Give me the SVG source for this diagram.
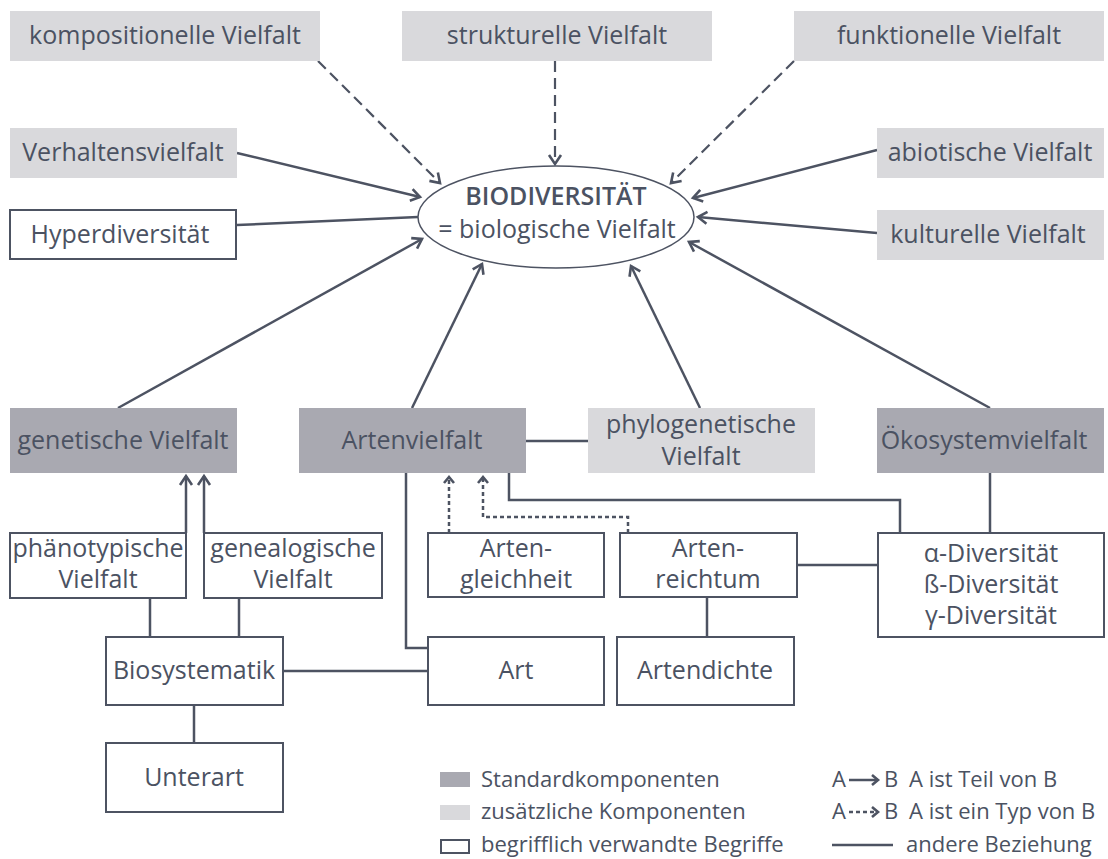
<svg xmlns="http://www.w3.org/2000/svg" width="1108" height="859" viewBox="0 0 1108 859">
<defs>
<style>
text { font-family: "Open Sans", "Noto Sans", sans-serif; font-size: 25px; fill: #4b5262; text-anchor: middle; }
.lg { font-size: 22px; text-anchor: start; }
.dark { fill: #a9a9b1; }
.light { fill: #d9d9dc; }
.white { fill: #ffffff; stroke: #4d5362; stroke-width: 2; }
.c { fill: none; stroke: #4d5362; stroke-width: 2.5; }
.dash { stroke-dasharray: 11 6; stroke-width: 2.2; }
.dot { stroke-dasharray: 4 3; }
</style>
<marker id="ah" viewBox="-13 -8 17 16" refX="0" refY="0" markerWidth="17" markerHeight="16" markerUnits="userSpaceOnUse" orient="auto">
<path d="M-9,-6 L0,0 L-9,6" fill="none" stroke="#4d5362" stroke-width="2.6"/>
</marker>
<marker id="ahs" viewBox="-10 -7 13 14" refX="0" refY="0" markerWidth="13" markerHeight="14" markerUnits="userSpaceOnUse" orient="auto">
<path d="M-6,-5 L0,0 L-6,5" fill="none" stroke="#4d5362" stroke-width="2.6"/>
</marker>
</defs>
<rect width="1108" height="859" fill="#ffffff"/>

<g id="connectors">
<line class="c dash" x1="318" y1="61" x2="440" y2="183" marker-end="url(#ah)"/>
<line class="c dash" x1="555" y1="61" x2="555" y2="164" marker-end="url(#ah)"/>
<line class="c dash" x1="794" y1="61" x2="671" y2="183" marker-end="url(#ah)"/>
<line class="c" x1="237" y1="153" x2="420" y2="197" marker-end="url(#ah)"/>
<line class="c" x1="237" y1="225" x2="418" y2="217"/>
<line class="c" x1="118" y1="408" x2="422" y2="239" marker-end="url(#ah)"/>
<line class="c" x1="412" y1="408" x2="482" y2="264" marker-end="url(#ah)"/>
<line class="c" x1="700" y1="408" x2="631" y2="266" marker-end="url(#ah)"/>
<line class="c" x1="990" y1="408" x2="689" y2="242" marker-end="url(#ah)"/>
<line class="c" x1="877" y1="150" x2="693" y2="198" marker-end="url(#ah)"/>
<line class="c" x1="877" y1="233" x2="698" y2="217" marker-end="url(#ah)"/>
<line class="c" x1="186" y1="533" x2="186" y2="476" marker-end="url(#ah)"/>
<line class="c" x1="204" y1="533" x2="204" y2="476" marker-end="url(#ah)"/>
<line class="c" x1="150" y1="598" x2="150" y2="637"/>
<line class="c" x1="239" y1="598" x2="239" y2="637"/>
<line class="c" x1="194" y1="705" x2="194" y2="743"/>
<line class="c" x1="283" y1="671" x2="428" y2="671"/>
<polyline class="c" points="406,473 406,648 428,648"/>
<line class="c" x1="526" y1="441" x2="588" y2="441"/>
<line class="c dot" x1="449" y1="533" x2="449" y2="477" marker-end="url(#ahs)"/>
<polyline class="c dot" points="628,533 628,517 483,517 483,477" marker-end="url(#ahs)"/>
<polyline class="c" points="509,473 509,500 900,500 900,533"/>
<line class="c" x1="990" y1="473" x2="990" y2="533"/>
<line class="c" x1="797" y1="565" x2="878" y2="565"/>
<line class="c" x1="707" y1="597" x2="707" y2="637"/>
</g>

<g id="biodiversitaet">
<ellipse cx="556" cy="217" rx="138" ry="51" fill="#ffffff" stroke="#4d5362" stroke-width="1.5"/>
<text x="556" y="205" font-weight="600" font-size="24">BIODIVERSITÄT</text>
<text x="557" y="238">= biologische Vielfalt</text>
</g>

<g id="kompositionelle"><rect class="light" x="10" y="11" width="310" height="50"/><text x="165" y="44">kompositionelle Vielfalt</text></g>
<g id="strukturelle"><rect class="light" x="402" y="11" width="310" height="50"/><text x="557" y="44">strukturelle Vielfalt</text></g>
<g id="funktionelle"><rect class="light" x="794" y="11" width="310" height="50"/><text x="949" y="44">funktionelle Vielfalt</text></g>
<g id="verhaltens"><rect class="light" x="10" y="128" width="227" height="50"/><text x="123" y="161">Verhaltensvielfalt</text></g>
<g id="abiotische"><rect class="light" x="877" y="128" width="227" height="50"/><text x="990" y="161">abiotische Vielfalt</text></g>
<g id="hyperdiversitaet"><rect class="white" x="10" y="210" width="226" height="49"/><text x="120" y="243">Hyperdiversität</text></g>
<g id="kulturelle"><rect class="light" x="877" y="210" width="227" height="50"/><text x="988" y="243">kulturelle Vielfalt</text></g>

<g id="genetische"><rect class="dark" x="10" y="408" width="227" height="65"/><text x="123" y="449">genetische Vielfalt</text></g>
<g id="artenvielfalt"><rect class="dark" x="299" y="408" width="227" height="65"/><text x="412" y="449">Artenvielfalt</text></g>
<g id="phylogenetische"><rect class="light" x="588" y="408" width="227" height="65"/><text x="701" y="433">phylogenetische</text><text x="701" y="465">Vielfalt</text></g>
<g id="oekosystem"><rect class="dark" x="877" y="408" width="227" height="65"/><text x="984" y="449">Ökosystemvielfalt</text></g>

<g id="phaenotypische"><rect class="white" x="10" y="533" width="176" height="65"/><text x="98" y="557">phänotypische</text><text x="98" y="588">Vielfalt</text></g>
<g id="genealogische"><rect class="white" x="204" y="533" width="178" height="65"/><text x="293" y="557">genealogische</text><text x="293" y="588">Vielfalt</text></g>
<g id="artengleichheit"><rect class="white" x="428" y="533" width="176" height="64"/><text x="516" y="557">Arten-</text><text x="516" y="588">gleichheit</text></g>
<g id="artenreichtum"><rect class="white" x="620" y="533" width="177" height="64"/><text x="708" y="557">Arten-</text><text x="708" y="588">reichtum</text></g>
<g id="diversitaeten"><rect class="white" x="878" y="533" width="226" height="104"/><text x="991" y="562">α-Diversität</text><text x="991" y="593">ß-Diversität</text><text x="991" y="624">γ-Diversität</text></g>

<g id="biosystematik"><rect class="white" x="106" y="637" width="177" height="68"/><text x="194" y="679">Biosystematik</text></g>
<g id="art"><rect class="white" x="428" y="637" width="176" height="68"/><text x="516" y="679">Art</text></g>
<g id="artendichte"><rect class="white" x="617" y="637" width="177" height="68"/><text x="705" y="679">Artendichte</text></g>
<g id="unterart"><rect class="white" x="106" y="743" width="177" height="69"/><text x="194" y="786">Unterart</text></g>

<g id="legend">
<rect class="dark" x="440" y="772" width="30" height="15"/>
<text class="lg" x="481" y="787">Standardkomponenten</text>
<rect class="light" x="440" y="805" width="30" height="15"/>
<text class="lg" x="481" y="819">zusätzliche Komponenten</text>
<rect class="white" x="441" y="840" width="28" height="13"/>
<text class="lg" x="481" y="852">begrifflich verwandte Begriffe</text>
<text class="lg" x="832" y="787">A</text>
<line class="c" x1="849" y1="780" x2="878" y2="780" marker-end="url(#ahs)"/>
<text class="lg" x="884" y="787">B</text>
<text class="lg" x="909" y="787">A ist Teil von B</text>
<text class="lg" x="832" y="819">A</text>
<line class="c dot" x1="849" y1="812" x2="878" y2="812" marker-end="url(#ahs)"/>
<text class="lg" x="884" y="819">B</text>
<text class="lg" x="909" y="819">A ist ein Typ von B</text>
<line class="c" x1="832" y1="845" x2="893" y2="845"/>
<text class="lg" x="906" y="852">andere Beziehung</text>
</g>
</svg>
